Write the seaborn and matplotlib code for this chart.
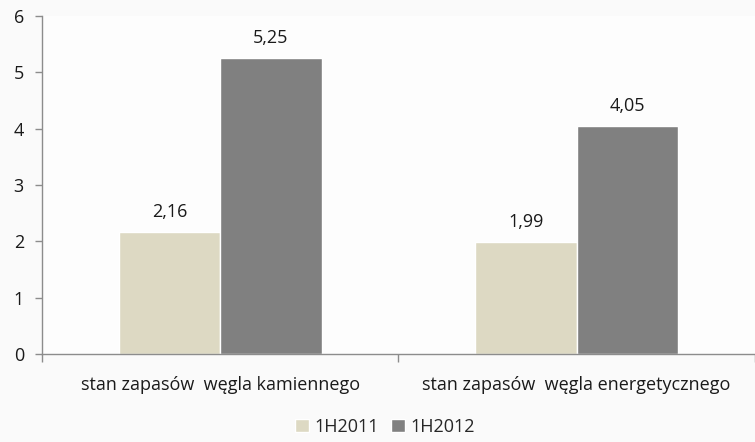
import matplotlib
matplotlib.use("Agg")
import matplotlib.pyplot as plt
import seaborn as sns
import pandas as pd
from matplotlib.ticker import FixedLocator

categories = ["stan zapasów  węgla kamiennego", "stan zapasów  węgla energetycznego"]
series_names = ["1H2011", "1H2012"]
values_2011 = [2.16, 1.99]
values_2012 = [5.25, 4.05]
y_ticks = [0, 1, 2, 3, 4, 5, 6]

df = pd.DataFrame({
    "kategoria": categories * 2,
    "okres": [series_names[0]] * 2 + [series_names[1]] * 2,
    "wartosc": values_2011 + values_2012,
})

sns.set_theme(style="white")
plt.rcParams["font.family"] = ["Open Sans", "DejaVu Sans"]

FS = 13
TXT = "#1a1a1a"
AXC = "#8c8c8c"

fig = plt.figure(figsize=(7.55, 4.42), dpi=100)
fig.patch.set_facecolor("#fafafa")
ax = fig.add_axes([0.0556, 0.199, 0.944, 0.765])
ax.set_facecolor("#fdfdfd")

palette = {series_names[0]: "#DDD9C3", series_names[1]: "#808080"}
sns.barplot(data=df, x="kategoria", y="wartosc", hue="okres", palette=palette,
            width=0.57, saturation=1, ax=ax, legend=True)

for cont in ax.containers:
    ax.bar_label(cont, labels=[f"{v:.2f}".replace(".", ",") for v in cont.datavalues],
                 padding=8, fontsize=FS, color=TXT)

ax.set_xlim(-0.5, 1.5)
ax.set_ylim(0, 6)
ax.set_yticks(y_ticks)
ax.set_xlabel("")
ax.set_ylabel("")

for side in ["top", "right"]:
    ax.spines[side].set_visible(False)
for side in ["left", "bottom"]:
    ax.spines[side].set_color(AXC)
    ax.spines[side].set_linewidth(1.0)

ax.tick_params(axis="y", which="major", direction="out", length=5, width=1,
               color=AXC, labelsize=FS, labelcolor=TXT, pad=8, left=True)
ax.tick_params(axis="x", which="major", length=0, labelsize=FS, labelcolor=TXT, pad=16)
ax.xaxis.set_minor_locator(FixedLocator([-0.5, 0.5, 1.5]))
ax.tick_params(axis="x", which="minor", direction="out", length=6, width=1,
               color=AXC, bottom=True)

handles, labels = ax.get_legend_handles_labels()
ax.legend(handles, labels, loc="center", bbox_to_anchor=(0.51, 0.035),
          bbox_transform=fig.transFigure, ncol=2, frameon=False, fontsize=FS,
          handlelength=0.75, handleheight=0.75, handletextpad=0.3, columnspacing=0.7)

fig.savefig("out.png", dpi=100, facecolor=fig.get_facecolor())
